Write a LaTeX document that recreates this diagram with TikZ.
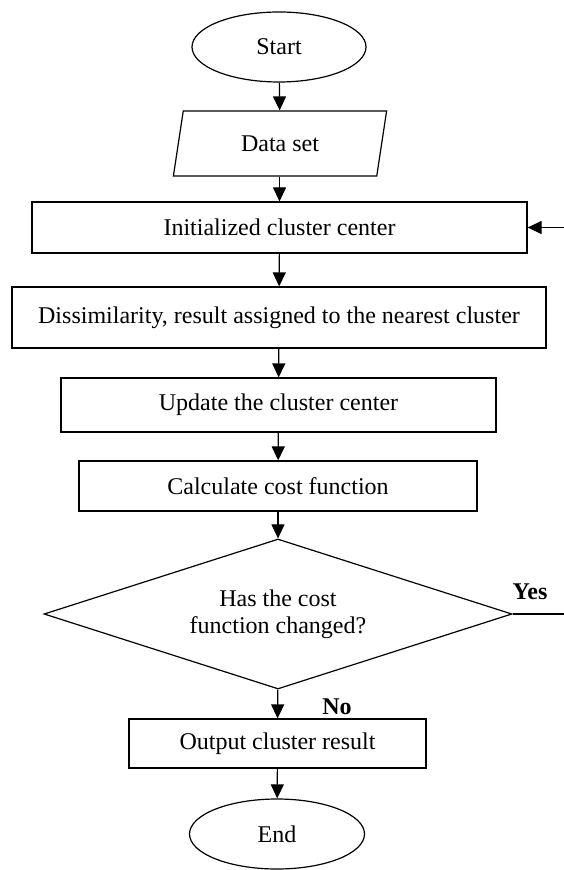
\documentclass[tikz,border=0pt]{standalone}
\usepackage{fontspec}
\setmainfont{Liberation Serif}
\usetikzlibrary{positioning, shapes.geometric, arrows.meta}

\begin{document}
\begin{tikzpicture}[x=0.5pt, y=-0.5pt,
        term/.style={draw, ellipse, line width=0.6pt, inner sep=0pt,
                     minimum width=87pt, minimum height=35pt},
        io/.style={draw, trapezium, trapezium left angle=76, trapezium right angle=104,
                   trapezium stretches=true, line width=0.6pt, inner sep=0pt,
                   minimum width=107pt, minimum height=32.5pt},
        proc/.style={draw, rectangle, line width=0.6pt, inner sep=0pt},
        dec/.style={draw, diamond, aspect=3.12, line width=0.6pt, inner sep=0pt, align=center,
                    minimum width=234pt, minimum height=75pt},
        lbl/.style={font=\bfseries, inner sep=0pt},
        arr/.style={-{Triangle[width=6.5pt, length=7pt]}, line width=0.6pt},
    ]
    \fontsize{12}{13.5}\selectfont
    \useasboundingbox (0,0) rectangle (563,870);

    % Flow steps
    \node[term] (start) at (279,47) {Start};
    \node[io] (data) at (280,143.5) {Data set};
    \node[proc, minimum width=247.5pt, minimum height=25.5pt] (init) at (279.5,227.5) {Initialized cluster center};
    \node[proc, minimum width=267pt, minimum height=30.5pt] (diss) at (279,317.5) {Dissimilarity, result assigned to the nearest cluster};
    \node[proc, minimum width=217.5pt, minimum height=27pt] (upd) at (278.5,405) {Update the cluster center};
    \node[proc, minimum width=199pt, minimum height=25pt] (cost) at (278,486) {Calculate cost function};
    \node[dec] (chg) at (278,614) {Has the cost\\function changed?};
    \node[proc, minimum width=148.5pt, minimum height=24.5pt] (out) at (277.5,743.5) {Output cluster result};
    \node[term, minimum width=87.5pt] (end) at (277,834) {End};

    % Straight arrows down the flow
    \draw[arr] (start) -- (data);
    \draw[arr] (data.south -| init.north) -- (init);
    \draw[arr] (init) -- (diss);
    \draw[arr] (diss) -- (upd);
    \draw[arr] (upd) -- (cost);
    \draw[arr] (cost) -- (chg);
    \draw[arr] (chg) -- (out);
    \draw[arr] (out) -- (end);

    % Loop back when the cost changed
    \coordinate (loop) at (566,614);
    \draw[arr] (chg.east) -- (loop) |- (init.east);

    \node[lbl] (yes) at (530,592) {Yes};
    \node[lbl] (no) at (337,707) {No};
\end{tikzpicture}
\end{document}
